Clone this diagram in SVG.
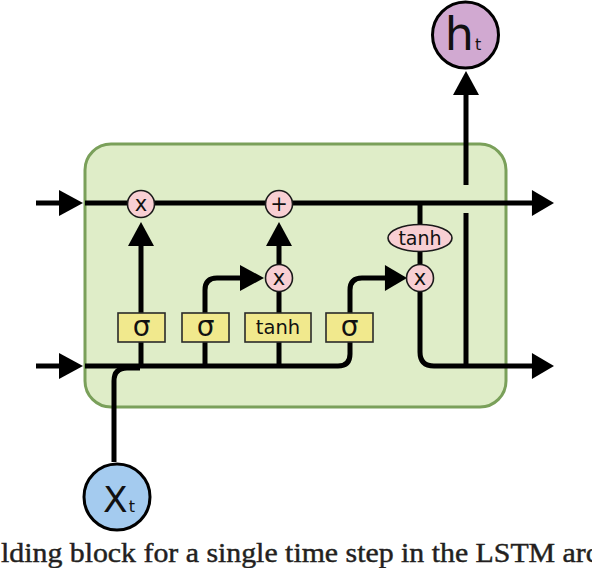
<svg xmlns="http://www.w3.org/2000/svg" width="592" height="568" viewBox="0 0 592 568">
<style>
.ln{fill:none;stroke:#000;stroke-width:5;stroke-linecap:butt;stroke-linejoin:round}
.op{fill:#f8cfd3;stroke:#1a1a1a;stroke-width:1.6}
.gate{fill:#f1e98d;stroke:#2a2a2a;stroke-width:1.6}
.t{font-family:"DejaVu Sans",Verdana,sans-serif;fill:#111;text-anchor:middle}
.ah{fill:#000}
</style>
<defs>
<path id="ah" d="M0,0 L-24,-13 L-24,13 Z"/>
</defs>
<rect x="0" y="0" width="592" height="568" fill="#fff"/>
<g id="cell">
<rect x="85" y="144" width="421" height="263" rx="26" ry="26" fill="#dfedc8" stroke="#7aa05a" stroke-width="3"/>
</g>
<g id="connectors">
<path class="ln" d="M36,203 H62"/>
<path class="ln" d="M85,203 H534"/>
<path class="ln" d="M36,366 H62"/>
<path class="ln" d="M85,366 H338 Q350,366 350,354 V341"/>
<path class="ln" d="M114,462 V381 Q114,368 127,368 H140"/>
<path class="ln" d="M141,366 V341"/>
<path class="ln" d="M141,313 V245"/>
<path class="ln" d="M205,366 V341"/>
<path class="ln" d="M205,313 V290 Q205,278 217,278 H242"/>
<path class="ln" d="M279,366 V341"/>
<path class="ln" d="M279,313 V291"/>
<path class="ln" d="M279,264 V245"/>
<path class="ln" d="M350,313 V290 Q350,278 362,278 H386"/>
<path class="ln" d="M420,203 V225"/>
<path class="ln" d="M420,251 V264"/>
<path class="ln" d="M420,291 V352 Q420,366 434,366 H534"/>
<path class="ln" d="M466,366 V213"/>
<path class="ln" d="M466,185 V93"/>
<use href="#ah" class="ah" transform="translate(83,203)"/>
<use href="#ah" class="ah" transform="translate(83,366)"/>
<use href="#ah" class="ah" transform="translate(554,203) scale(0.92,1)"/>
<use href="#ah" class="ah" transform="translate(554,366) scale(0.92,1)"/>
<use href="#ah" class="ah" transform="translate(141,222) rotate(-90)"/>
<use href="#ah" class="ah" transform="translate(279,222) rotate(-90)"/>
<use href="#ah" class="ah" transform="translate(264,278)"/>
<use href="#ah" class="ah" transform="translate(407,278) scale(0.92,1)"/>
<use href="#ah" class="ah" transform="translate(466,71) rotate(-90)"/>
</g>
<g id="mul-forget">
<circle class="op" cx="141" cy="204" r="13.5"/>
<text class="t" x="141" y="210.5" font-size="21">x</text>
</g>
<g id="add-cell">
<circle class="op" cx="279" cy="204" r="13.5"/>
<text class="t" x="279" y="211" font-size="21">+</text>
</g>
<g id="mul-input">
<circle class="op" cx="279" cy="278" r="13.5"/>
<text class="t" x="279" y="284.5" font-size="21">x</text>
</g>
<g id="mul-output">
<circle class="op" cx="420" cy="278" r="13.5"/>
<text class="t" x="420" y="284.5" font-size="21">x</text>
</g>
<g id="tanh-cell">
<ellipse class="op" cx="420" cy="238" rx="32" ry="13.5"/>
<text class="t" x="420" y="245" font-size="19">tanh</text>
</g>
<g id="sigma-forget">
<rect class="gate" x="118" y="313" width="47" height="29"/>
<text class="t" x="141.5" y="336" font-size="28">σ</text>
</g>
<g id="sigma-input">
<rect class="gate" x="182" y="313" width="47" height="29"/>
<text class="t" x="205.5" y="336" font-size="28">σ</text>
</g>
<g id="tanh-candidate">
<rect class="gate" x="245" y="313" width="66" height="29"/>
<text class="t" x="278" y="334" font-size="19.5">tanh</text>
</g>
<g id="sigma-output">
<rect class="gate" x="326" y="313" width="47" height="29"/>
<text class="t" x="349.5" y="336" font-size="28">σ</text>
</g>
<g id="h-out">
<circle cx="465.5" cy="35" r="33" fill="#d1a9d1" stroke="#000" stroke-width="3"/>
<text class="t" x="463" y="50" font-size="46">h<tspan font-size="16" dx="1">t</tspan></text>
</g>
<g id="x-in">
<circle cx="117" cy="497" r="33" fill="#a4cbef" stroke="#000" stroke-width="3"/>
<text class="t" x="119" y="512" font-size="36">X<tspan font-size="16" dx="1">t</tspan></text>
</g>
<g id="caption">
<text x="1" y="562" font-family="'Liberation Serif','Times New Roman',serif" font-size="28" fill="#231f20" stroke="#231f20" stroke-width="0.45" textLength="598" lengthAdjust="spacingAndGlyphs">lding block for a single time step in the LSTM arc</text>
</g>
</svg>
